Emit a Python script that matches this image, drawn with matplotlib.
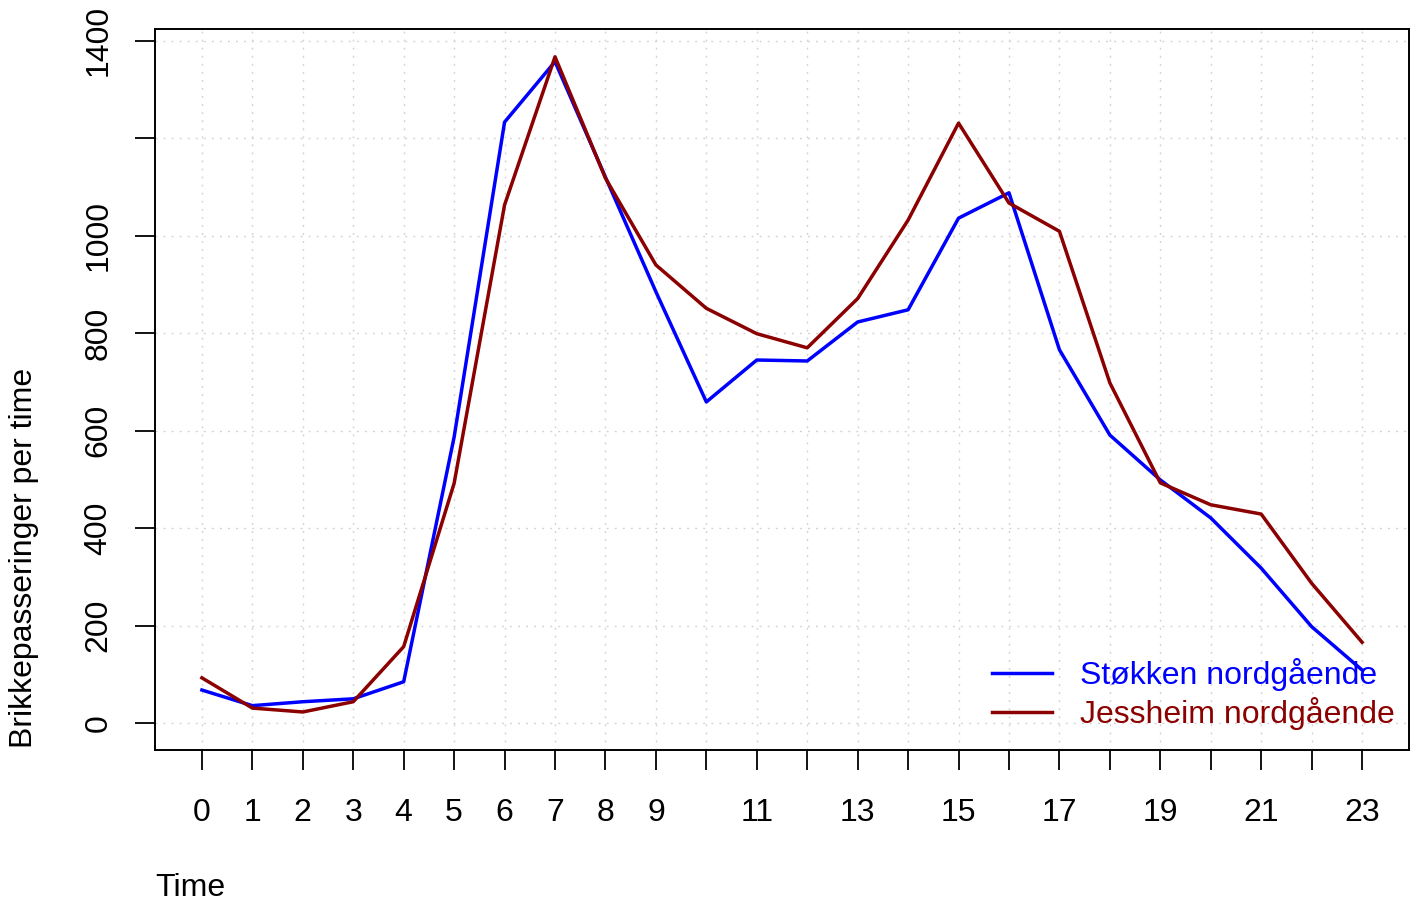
import matplotlib
matplotlib.use("Agg")
import matplotlib.pyplot as plt

plt.rcParams['font.family'] = ['Liberation Sans', 'DejaVu Sans']

hours = list(range(24))
stokken = [68, 36, 44, 50, 85, 587, 1233, 1357, 1120, 885, 659, 745, 743, 823,
           848, 1036, 1088, 766, 591, 499, 421, 318, 198, 109]
jessheim = [93, 31, 23, 44, 157, 492, 1063, 1367, 1118, 940, 851, 799, 770, 871,
            1032, 1231, 1067, 1009, 698, 493, 448, 429, 287, 166]
series_labels = ["Støkken nordgående", "Jessheim nordgående"]
series_colors = ["#0000FF", "#8B0000"]
x_tick_labels = [str(h) if (h <= 9 or h % 2 == 1) else "" for h in hours]
y_ticks = [0, 200, 400, 600, 800, 1000, 1200, 1400]
y_tick_labels = ["0", "200", "400", "600", "800", "1000", "", "1400"]
x_label = "Time"
y_label = "Brikkepasseringer per time"

W, H = 1418, 905
fig = plt.figure(figsize=(W / 100, H / 100), dpi=100)
ax = fig.add_axes([155 / W, 1 - 750 / H, (1409 - 155) / W, (750 - 29) / H])

fs = 23
grid_kw = dict(color="#D3D3D3", lw=1.0, ls=(0, (1.4, 4.4)), zorder=0)
for yv in y_ticks:
    ax.axhline(yv, **grid_kw)
for xv in hours:
    ax.axvline(xv, **grid_kw)

for vals, lab, col in zip([stokken, jessheim], series_labels, series_colors):
    ax.plot(hours, vals, color=col, lw=2.5, label=lab, zorder=3)

ax.set_xlim(-0.93, 23.93)
ax.set_ylim(-55, 1424)

ax.set_xticks(hours)
ax.set_xticklabels(x_tick_labels, fontsize=fs)
ax.set_yticks(y_ticks)
ax.set_yticklabels(y_tick_labels, fontsize=fs, rotation=90, va="center")
ax.tick_params(axis="x", length=14.4, width=1.3, pad=20)
ax.tick_params(axis="y", length=14.4, width=1.3, pad=15.5)
for sp in ax.spines.values():
    sp.set_linewidth(1.4)
    sp.set_color("black")

fig.text(155 / W, 1 - 888 / H, x_label, fontsize=fs, ha="left", va="center")
fig.text(24 / W, 1 - 748 / H, y_label, fontsize=fs, ha="center", va="bottom", rotation=90)

leg = ax.legend(loc="lower right", frameon=False, fontsize=fs, handlelength=1.88,
                handletextpad=0.88, labelspacing=0.175, borderaxespad=0.3,
                bbox_to_anchor=(1.0064, -0.003), labelcolor="linecolor")

fig.savefig("out.png", dpi=100)
